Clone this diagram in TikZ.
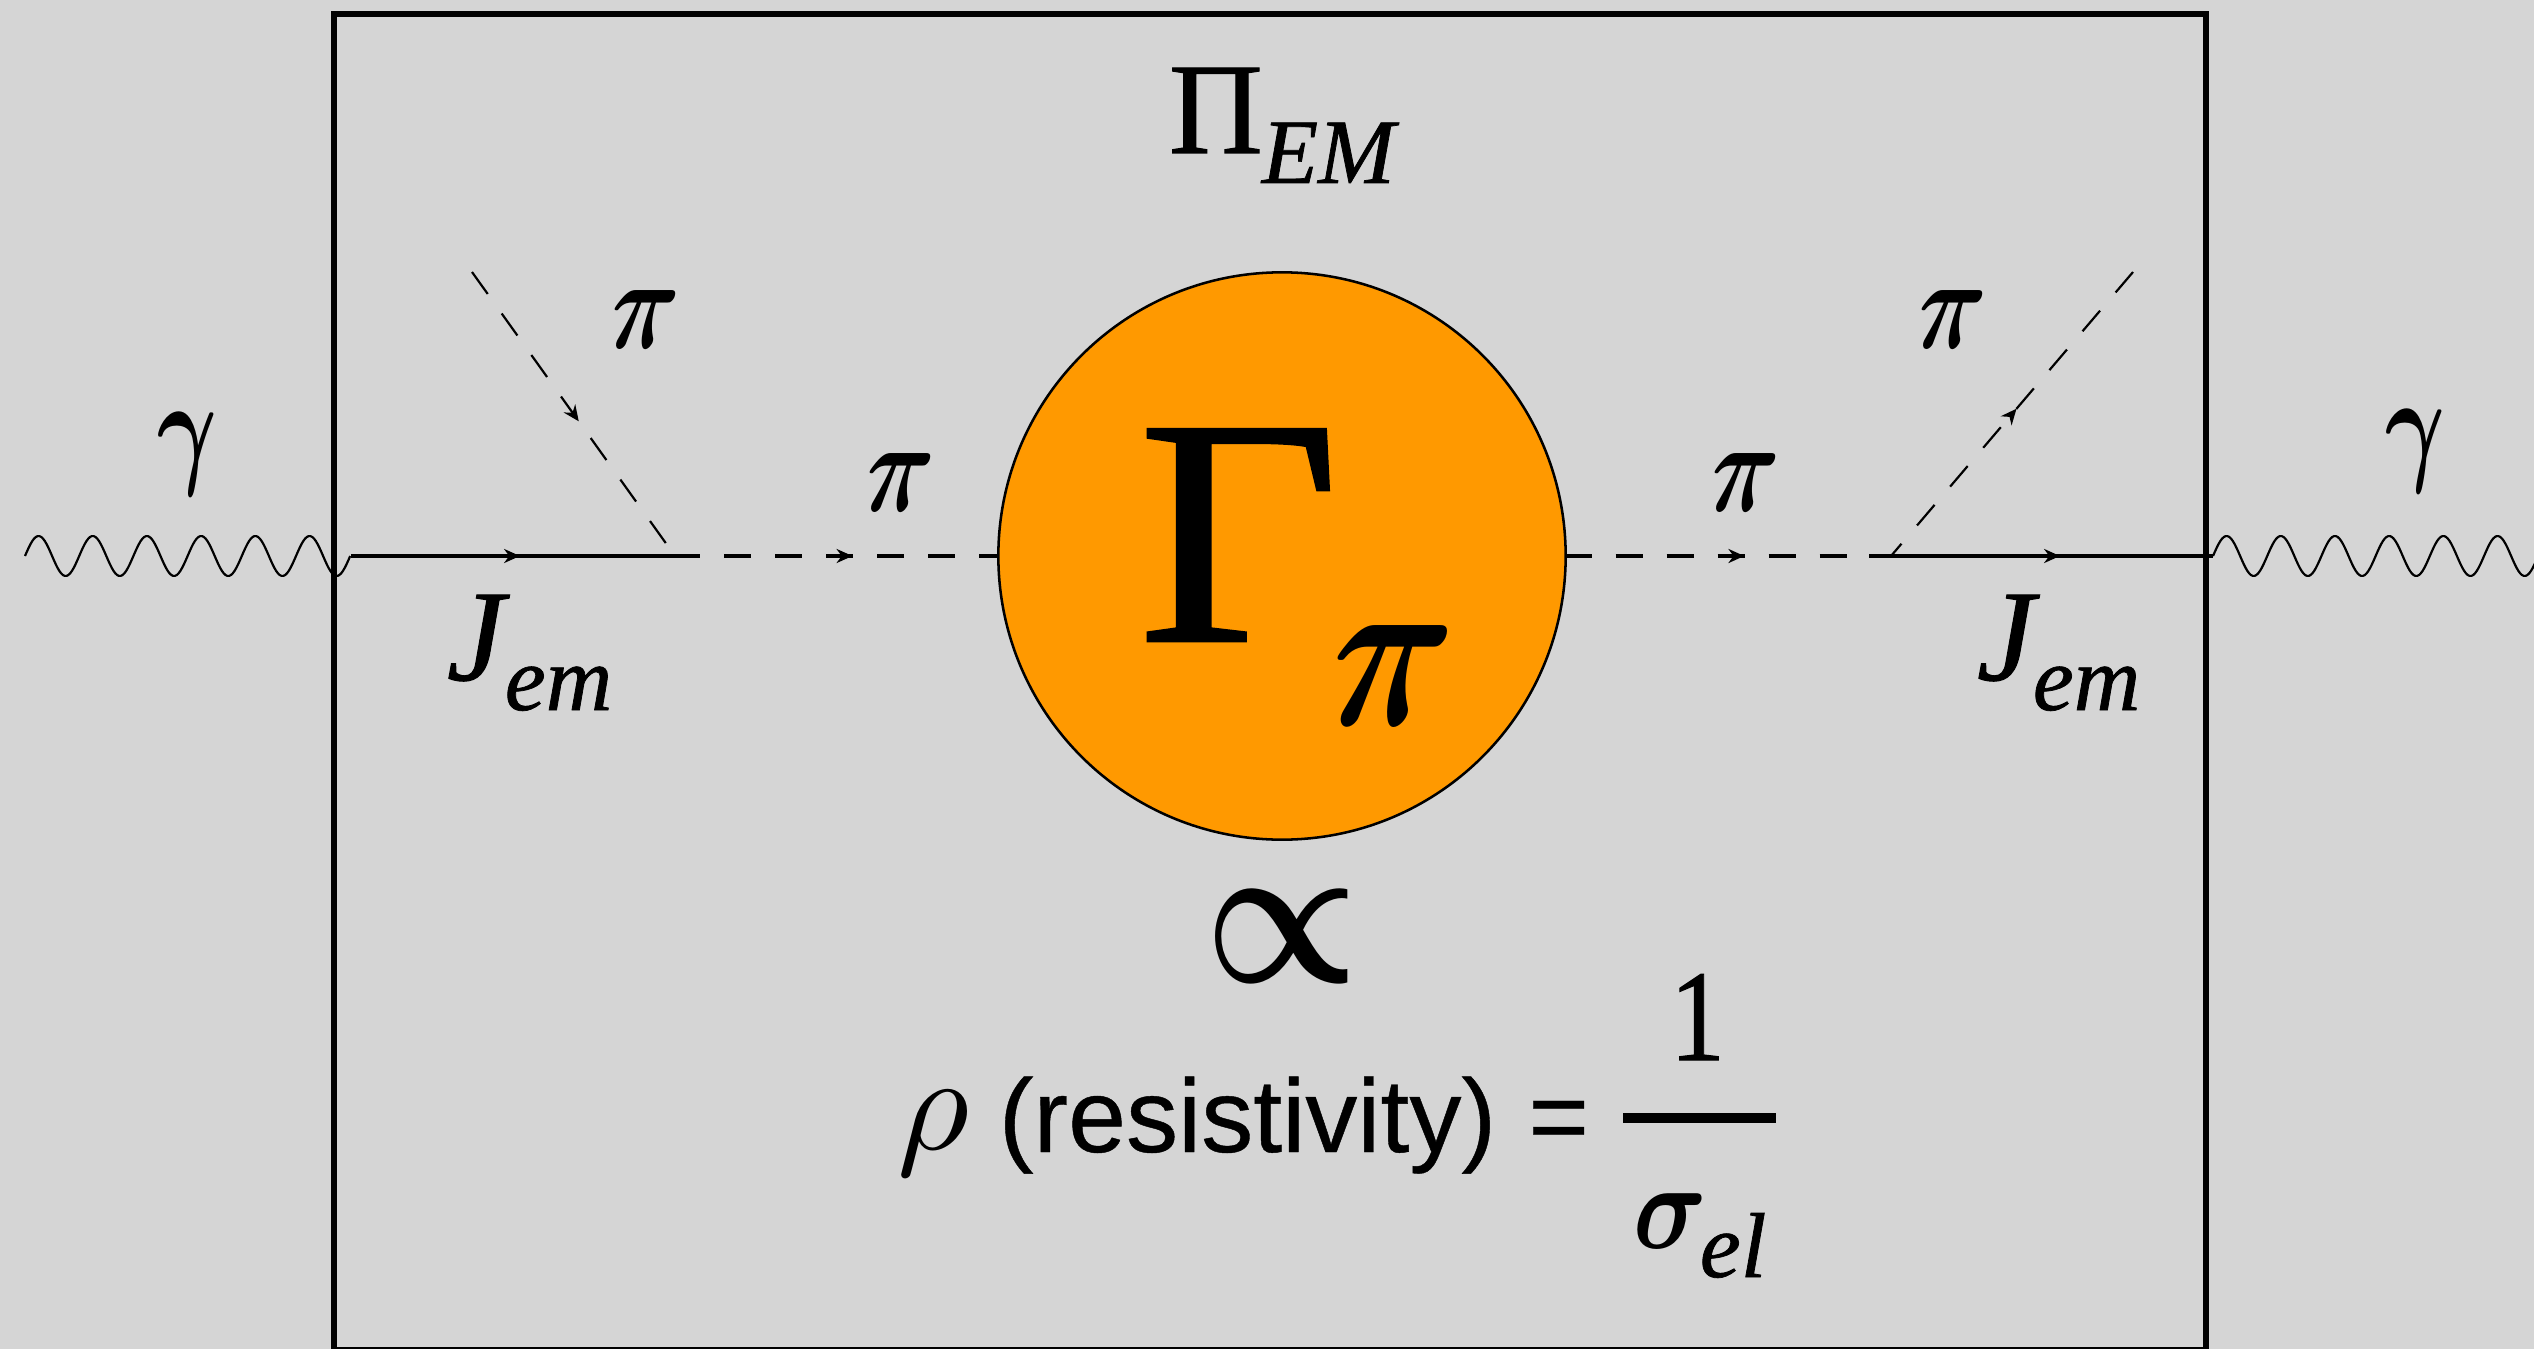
\documentclass[tikz,border=0pt]{standalone}
\usepackage{amsmath,graphicx,fontspec}
\setmainfont{Liberation Serif}[FakeBold=0.8]
\newfontfamily\helv{Liberation Sans}[FakeBold=0.4]
\usetikzlibrary{arrows.meta,decorations.markings}
\definecolor{panelgray}{RGB}{213,213,213}
\definecolor{bloborange}{RGB}{255,153,0}
\newcommand\szbig{\fontsize{37pt}{37pt}\selectfont}
\newcommand\szsub{\fontsize{26.2pt}{26.2pt}\selectfont}
\newcommand\greek[3]{\resizebox*{#1}{#2}{\normalsize$#3$}}
\newcommand\photonwave[1]{\draw[thinline,shift={(#1)}] plot[domain=0:325.2,samples=181] (\x,{-20*sin(\x*6.642)});}
\begin{document}
\begin{tikzpicture}[x=.01cm,y=-.01cm,line width=1.05pt,
  lab/.style={inner sep=0pt,anchor=base west,font=\szbig},
  sublab/.style={inner sep=0pt,anchor=base west,font=\szsub\itshape},
  leaning/.style={lab,transform shape,xslant=.2},
  thinline/.style={line width=.62pt},
  dashes/.style={dash pattern=on 7.68pt off 6.83pt,dash phase=#1},
  midarrow/.style={postaction={decorate},decoration={markings,mark=at position #1 with {\arrow{Stealth[length=4.5pt,width=4pt]}}}}]
\useasboundingbox (0,0) rectangle (2534,1349);
\fill[panelgray] (0,0) rectangle (2534,1349);
\coordinate (PhotonA) at (25,556);
\coordinate (VertA) at (351,556);
\coordinate (SplitA) at (675,556);
\coordinate (EndA) at (700,556);
\coordinate (TopA) at (472,272);
\coordinate (EndB) at (1869,556);
\coordinate (SplitB) at (1891,556);
\coordinate (VertB) at (2213,556);
\coordinate (TopB) at (2133,272);
\coordinate (BarA) at (1623,1118);
\coordinate (BarB) at (1776,1118);
\node[draw,line width=1.7pt,inner sep=0pt,minimum width=18.7cm,minimum height=13.36cm] (Frame) at (1270,682) {};
\node[draw,line width=.72pt,circle,fill=bloborange,inner sep=0pt,minimum size=5.67cm] (Blob) at (1282,556) {};
\photonwave{PhotonA}
\photonwave{VertB}
\draw[midarrow=.484] (VertA) -- (EndA);
\draw[dashes=7.68pt,midarrow=.513] (EndA) -- (Blob.west);
\draw[dashes=.7pt,midarrow=.587] (Blob.east) -- (EndB);
\draw[midarrow=.555] (EndB) -- (VertB);
\draw[thinline,dashes=0pt,midarrow=.527] (TopA) -- (SplitA);
\draw[thinline,dashes=3.1pt,midarrow=.52] (SplitB) -- (TopB);
\draw[line width=2.85pt] (BarA) -- (BarB);
\node[lab] (PiEM) at (1167,153) {Π};
\node[sublab] (PiEMsub) at (1260,183) {EM};
\node[lab] (GammaL) at (156,470) {\greek{17pt}{23.6pt}{\boldsymbol{\gamma}}};
\node[lab] (GammaR) at (2384,468) {\greek{17pt}{23.6pt}{\boldsymbol{\gamma}}};
\node[lab,font=\szbig\itshape] (JL) at (445,680) {J};
\node[sublab] (JLsub) at (503,710) {em};
\node[lab,font=\szbig\itshape] (JR) at (1975,680) {J};
\node[sublab] (JRsub) at (2031,710) {em};
\node[leaning] (PiA) at (603,349) {\greek{18.5pt}{16.5pt}{\boldsymbol{\pi}}};
\node[leaning] (PiB) at (858,511) {\greek{18.5pt}{16.5pt}{\boldsymbol{\pi}}};
\node[leaning] (PiC) at (1703,511) {\greek{18.5pt}{16.5pt}{\boldsymbol{\pi}}};
\node[leaning] (PiD) at (1910,349) {\greek{18.5pt}{16.5pt}{\boldsymbol{\pi}}};
\node[lab] (GammaBig) at (1136,641) {\scalebox{1.08}[1]{\fontsize{92pt}{92pt}\selectfont Γ}};
\node[leaning] (PiBig) at (1318,725) {\greek{33.5pt}{28.45pt}{\boldsymbol{\pi}}};
\node[inner sep=0pt] (Prop) at (1282,936) {\resizebox{43.9pt}{26.2pt}{\normalsize$\boldsymbol{\propto}$}};
\node[lab] (Rho) at (896,1149) {\greek{20.5pt}{24.2pt}{\rho}};
\node[lab,font=\fontsize{29.6pt}{29.6pt}\selectfont\helv] (Resist) at (997,1152) {(resistivity) \kern.9pt=};
\node[lab] (One) at (1668,1060) {\scalebox{.85}[1]{1}};
\node[lab] (Sigma) at (1632,1248) {\greek{21pt}{15.6pt}{\boldsymbol{\sigma}}};
\node[sublab] (Sigmasub) at (1698,1277) {el};
\end{tikzpicture}
\end{document}
